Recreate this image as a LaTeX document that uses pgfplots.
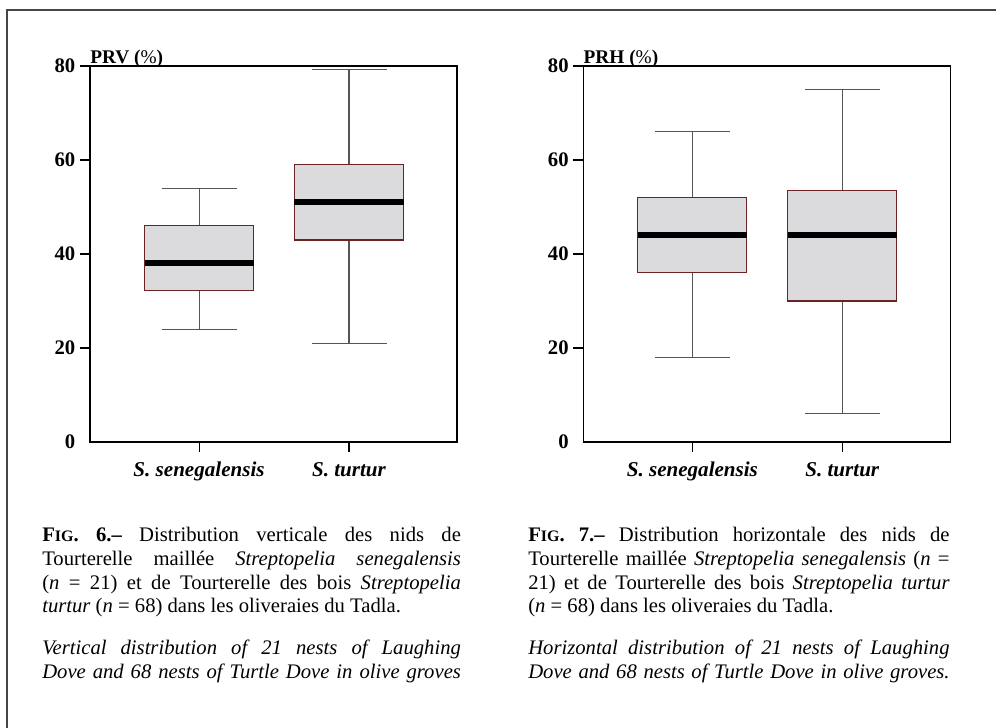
\documentclass[border=0pt]{standalone}
\usepackage{fontspec}
\setmainfont{Liberation Serif}
\usepackage{pgfplots}
\pgfplotsset{compat=1.18}
\usepgfplotslibrary{statistics}
\definecolor{boxfill}{RGB}{219,219,222}
\definecolor{boxedge}{RGB}{105,35,35}
\definecolor{whisk}{RGB}{85,85,85}
\definecolor{framec}{RGB}{70,70,70}
\pgfplotsset{
  mybox/.style={
    scale only axis, width=275.25pt, height=282pt,
    xmin=0.273, xmax=2.72, ymin=0, ymax=80,
    xtick={1,2},
    xticklabels={\textit{S. senegalensis}, \textit{S. turtur}},
    ytick={20,40,60,80},
    extra y ticks={0},
    extra y tick style={tick style={draw=none}},
    tick align=outside, tick pos=left, major tick length=7.5pt,
    tick style={black, line width=0.8pt},
    axis line style={line width=0.9pt},
    ticklabel style={font=\fontsize{15.5}{18}\selectfont\bfseries},
    xticklabel style={font=\fontsize{15.8}{18}\selectfont\bfseries, anchor=base, yshift=-18pt},
    /pgf/number format/assume math mode=true,
    boxplot/draw direction=y,
    boxplot/box extend=0.727,
    boxplot/whisker extend=0.5,
    boxplot/every whisker/.style={draw=whisk, line width=0.8pt},
    boxplot/every median/.style={draw=black, line width=4.5pt},
    boxplot/every box/.style={draw=boxedge, fill=boxfill, line width=0.9pt},
  }
}
\begin{document}
\begin{tikzpicture}
\path[use as bounding box] (0pt,0pt) rectangle (747pt,-546pt);
\draw[framec, line width=1.5pt] (5.25pt,-546pt) -- (5.25pt,-7.5pt) -- (747pt,-7.5pt);

\begin{axis}[mybox, at={(67.5pt,-331.5pt)}, anchor=south west]
\addplot[boxplot prepared={draw position=1, lower whisker=24, lower quartile=32.2, median=38, upper quartile=46, upper whisker=54}] coordinates {};
\addplot[boxplot prepared={draw position=2, lower whisker=21, lower quartile=43, median=51, upper quartile=59, upper whisker=79.3}] coordinates {};
\end{axis}
\node[anchor=base west, inner sep=0pt, font=\fontsize{14.5}{16}\selectfont] at (67.5pt,-47.5pt) {\textbf{PRV (}\%\textbf{)}};

\begin{axis}[mybox, at={(437.5pt,-331.5pt)}, anchor=south west]
\addplot[boxplot prepared={draw position=1, lower whisker=18, lower quartile=36, median=44, upper quartile=52, upper whisker=66}] coordinates {};
\addplot[boxplot prepared={draw position=2, lower whisker=6, lower quartile=30, median=44, upper quartile=53.5, upper whisker=75}] coordinates {};
\end{axis}
\node[anchor=base west, inner sep=0pt, font=\fontsize{14.5}{16}\selectfont] at (437.5pt,-47.5pt) {\textbf{PRH (}\%\textbf{)}};

\node[anchor=north west, inner sep=0pt, text width=314pt, align=justify, font=\fontsize{15.5}{17.8}\selectfont] at (31.5pt,-395.25pt) {\hbadness=10000
{\bfseries F{\fontsize{12}{14}\selectfont IG}. 6.–} Distribution verticale des nids de\linebreak
Tourterelle maillée \textit{Streptopelia senegalensis}\linebreak
(\textit{n} = 21) et de Tourterelle des bois \textit{Streptopelia}\linebreak
\textit{turtur} (\textit{n} = 68) dans les oliveraies du Tadla.\par
\vspace{13.5pt}
{\parfillskip=0pt \itshape Vertical distribution of 21 nests of Laughing\linebreak
Dove and 68 nests of Turtle Dove in olive groves\par}};

\node[anchor=north west, inner sep=0pt, text width=316pt, align=justify, font=\fontsize{15.5}{17.8}\selectfont] at (396pt,-395.25pt) {\hbadness=10000
{\bfseries F{\fontsize{12}{14}\selectfont IG}. 7.–} Distribution horizontale des nids de\linebreak
Tourterelle maillée \textit{Streptopelia senegalensis} (\textit{n} =\linebreak
21) et de Tourterelle des bois \textit{Streptopelia turtur}\linebreak
(\textit{n} = 68) dans les oliveraies du Tadla.\par
\vspace{13.5pt}
{\parfillskip=0pt \itshape Horizontal distribution of 21 nests of Laughing\linebreak
Dove and 68 nests of Turtle Dove in olive groves.\par}};
\end{tikzpicture}
\end{document}
